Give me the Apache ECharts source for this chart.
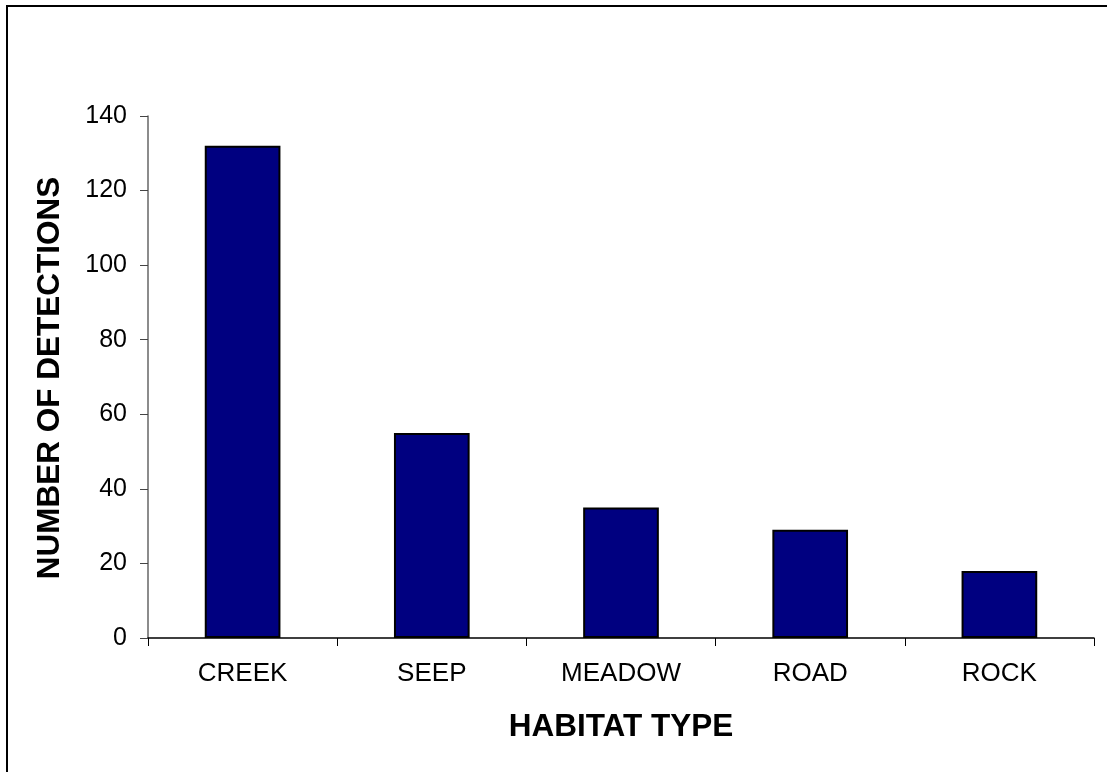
<!DOCTYPE html>
<html>
<head>
<meta charset="utf-8">
<script src="https://cdn.jsdelivr.net/npm/echarts@6/dist/echarts.min.js"></script>
<style>html,body{margin:0;padding:0;background:#fff}#c{width:1107px;height:772px}</style>
</head>
<body>
<div id="c"></div>
<script>
const categories = ["CREEK", "SEEP", "MEADOW", "ROAD", "ROCK"];
const detections = [132, 55, 35, 29, 18];
const yTicks = [0, 20, 40, 60, 80, 100, 120, 140];
const xTitle = "HABITAT TYPE";
const yTitle = "NUMBER OF DETECTIONS";

const chart = echarts.init(document.getElementById('c'), null, {renderer: 'canvas'});
const font = '"Liberation Sans", Arial, sans-serif';
chart.setOption({
  animation: false,
  backgroundColor: '#ffffff',
  grid: {left: 148, right: 13, top: 116, bottom: 134, containLabel: false},
  graphic: [
    {type: 'rect', shape: {x: 7, y: 6, width: 1200, height: 900}, style: {fill: 'none', stroke: '#000', lineWidth: 2}, silent: true, z: 100},
    {type: 'text', x: 50, y: 378, rotation: Math.PI / 2,
     style: {text: yTitle, font: 'bold 31.5px ' + font, fill: '#000', align: 'center', verticalAlign: 'middle'}}
  ],
  xAxis: {
    type: 'category',
    data: categories,
    name: xTitle,
    nameLocation: 'middle',
    nameGap: 73,
    nameTextStyle: {fontFamily: font, fontSize: 31.5, fontWeight: 'bold', color: '#000'},
    axisLine: {lineStyle: {color: '#000', width: 1.5}},
    axisTick: {show: true, length: 8, lineStyle: {color: '#000'}},
    axisLabel: {fontFamily: font, fontSize: 26, color: '#000', margin: 23}
  },
  yAxis: {
    type: 'value',
    min: yTicks[0],
    max: yTicks[yTicks.length - 1],
    interval: yTicks[1] - yTicks[0],
    axisLine: {show: true, lineStyle: {color: '#666', width: 1.5}},
    axisTick: {show: true, length: 8, lineStyle: {color: '#444'}},
    splitLine: {show: false},
    axisLabel: {fontFamily: font, fontSize: 25, color: '#000', margin: 21}
  },
  series: [{
    type: 'bar',
    data: detections,
    barWidth: '40%',
    itemStyle: {color: '#000080', borderColor: '#000', borderWidth: 2}
  }]
});
</script>
</body>
</html>
